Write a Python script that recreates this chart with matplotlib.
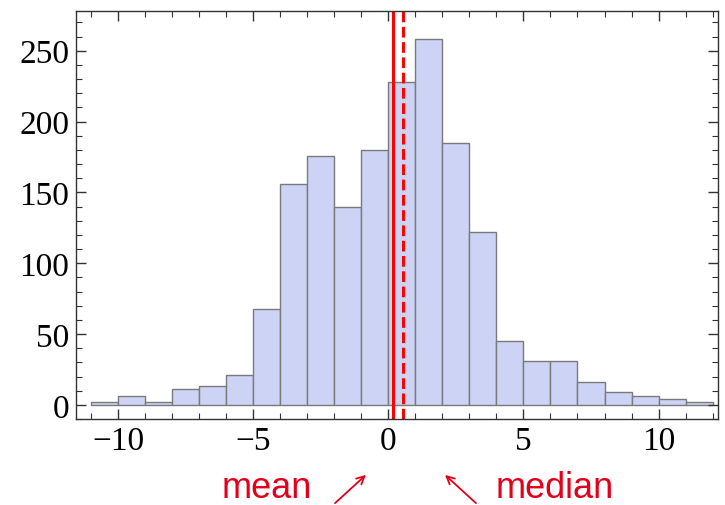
import matplotlib
matplotlib.use("Agg")
import matplotlib.pyplot as plt
from matplotlib.ticker import MultipleLocator, FuncFormatter
import numpy as np

bin_edges = list(range(-11, 13))
counts = [2, 6, 2, 11, 13, 21, 68, 156, 176, 140, 180, 228, 258, 185, 122, 45, 31, 31, 16, 9, 6, 4, 2]
mean_val = 0.16
median_val = 0.53

fig = plt.figure(figsize=(7.25, 5.06), dpi=100)
ax = fig.add_axes([76/725, (506-420)/506, (718-76)/725, (420-12)/506])

lefts = np.array(bin_edges[:-1])
widths = np.diff(bin_edges)
ax.bar(lefts, counts, width=widths, align='edge', color='#ccd3f5', edgecolor='#7a7a7a', linewidth=1.0)

ax.axvline(mean_val, color='#ff0000', lw=2.2)
ax.axvline(median_val, color='#ff0000', lw=2.2, ls=(0, (3.5, 1.5)))

ax.set_xlim(-11.56, 12.2)
ax.set_ylim(-10, 278)

ax.xaxis.set_major_locator(MultipleLocator(5))
ax.xaxis.set_minor_locator(MultipleLocator(1))
ax.yaxis.set_major_locator(MultipleLocator(50))
ax.yaxis.set_minor_locator(MultipleLocator(10))

fmt = FuncFormatter(lambda v, p: f"{int(round(v))}".replace('-', '\u2212'))
ax.xaxis.set_major_formatter(fmt)
ax.yaxis.set_major_formatter(fmt)

ax.tick_params(which='both', direction='in', top=True, right=True, color='#333333')
ax.tick_params(which='major', length=7, width=1.0, labelsize=24, pad=5)
ax.tick_params(which='minor', length=4, width=0.8)
for lab in ax.get_xticklabels() + ax.get_yticklabels():
    lab.set_fontfamily('Liberation Serif')
for s in ax.spines.values():
    s.set_color('#333333')
    s.set_linewidth(1.0)

red = '#e4001b'
fig.text(222/725, 0.0, 'mean', color=red, fontsize=26, family='Liberation Sans', ha='left', va='bottom')
fig.text(496/725, 0.0, 'median', color=red, fontsize=26, family='Liberation Sans', ha='left', va='bottom')
fig.add_artist(matplotlib.patches.FancyArrowPatch((333/725, 1 - 506/506), (368/725, 1 - 474/506),
               transform=fig.transFigure, arrowstyle='->', mutation_scale=14, color=red, lw=1.3))
fig.add_artist(matplotlib.patches.FancyArrowPatch((478/725, 1 - 506/506), (443/725, 1 - 474/506),
               transform=fig.transFigure, arrowstyle='->', mutation_scale=14, color=red, lw=1.3))

fig.savefig('out.png', dpi=100)
